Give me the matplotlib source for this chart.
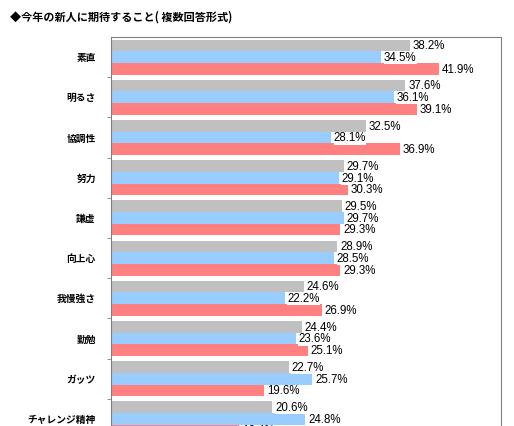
import numpy as np
import matplotlib.pyplot as plt

plt.rcParams['font.family'] = ['Noto Sans CJK JP', 'DejaVu Sans']

categories = ['素直', '明るさ', '協調性', '努力', '謙虚', '向上心', '我慢強さ', '勤勉', 'ガッツ', 'チャレンジ精神']
gray_vals = [38.2, 37.6, 32.5, 29.7, 29.5, 28.9, 24.6, 24.4, 22.7, 20.6]
blue_vals = [34.5, 36.1, 28.1, 29.1, 29.7, 28.5, 22.2, 23.6, 25.7, 24.8]
red_vals = [41.9, 39.1, 36.9, 30.3, 29.3, 29.3, 26.9, 25.1, 19.6, 16.4]
title = '◆今年の新人に期待すること( 複数回答形式)'

W, H = 514, 426
fig = plt.figure(figsize=(W / 100, H / 100), dpi=100)
# axes runs past the bottom edge, the reference is cropped there
ax = fig.add_axes([111 / W, 1 - 439 / H, 390 / W, 402 / H])

y = np.arange(len(categories))
bh = 0.29
series = [(gray_vals, '#C0C0C0', -bh), (blue_vals, '#99CCFF', 0), (red_vals, '#FF8080', bh)]
for vals, col, off in series:
    ax.barh(y + off, vals, height=bh, color=col, edgecolor='none')
    for yi, v in zip(y, vals):
        ax.text(v + 0.35, yi + off + 0.02, '{:.1f}%'.format(v), va='center', ha='left',
                fontsize=8.3, family='Liberation Sans',
                bbox=dict(facecolor='white', edgecolor='none', pad=0.2))

ax.set_xlim(0, 49.8)
ax.set_ylim(len(categories) - 0.5, -0.5)
ax.set_yticks(y)
ax.set_yticklabels(categories, fontsize=7, fontweight='bold')
ax.tick_params(axis='y', length=0, pad=11)
ax.set_yticks(np.arange(len(categories)) + 0.5, minor=True)
ax.tick_params(axis='y', which='minor', length=3, color='#808080')
ax.set_xticks([])
for s in ax.spines.values():
    s.set_color('#808080')
    s.set_linewidth(0.8)

fig.text(10 / W, 1 - 17 / H, title, fontsize=8, fontweight='bold', va='center', ha='left')

fig.savefig('out.png', dpi=100)
